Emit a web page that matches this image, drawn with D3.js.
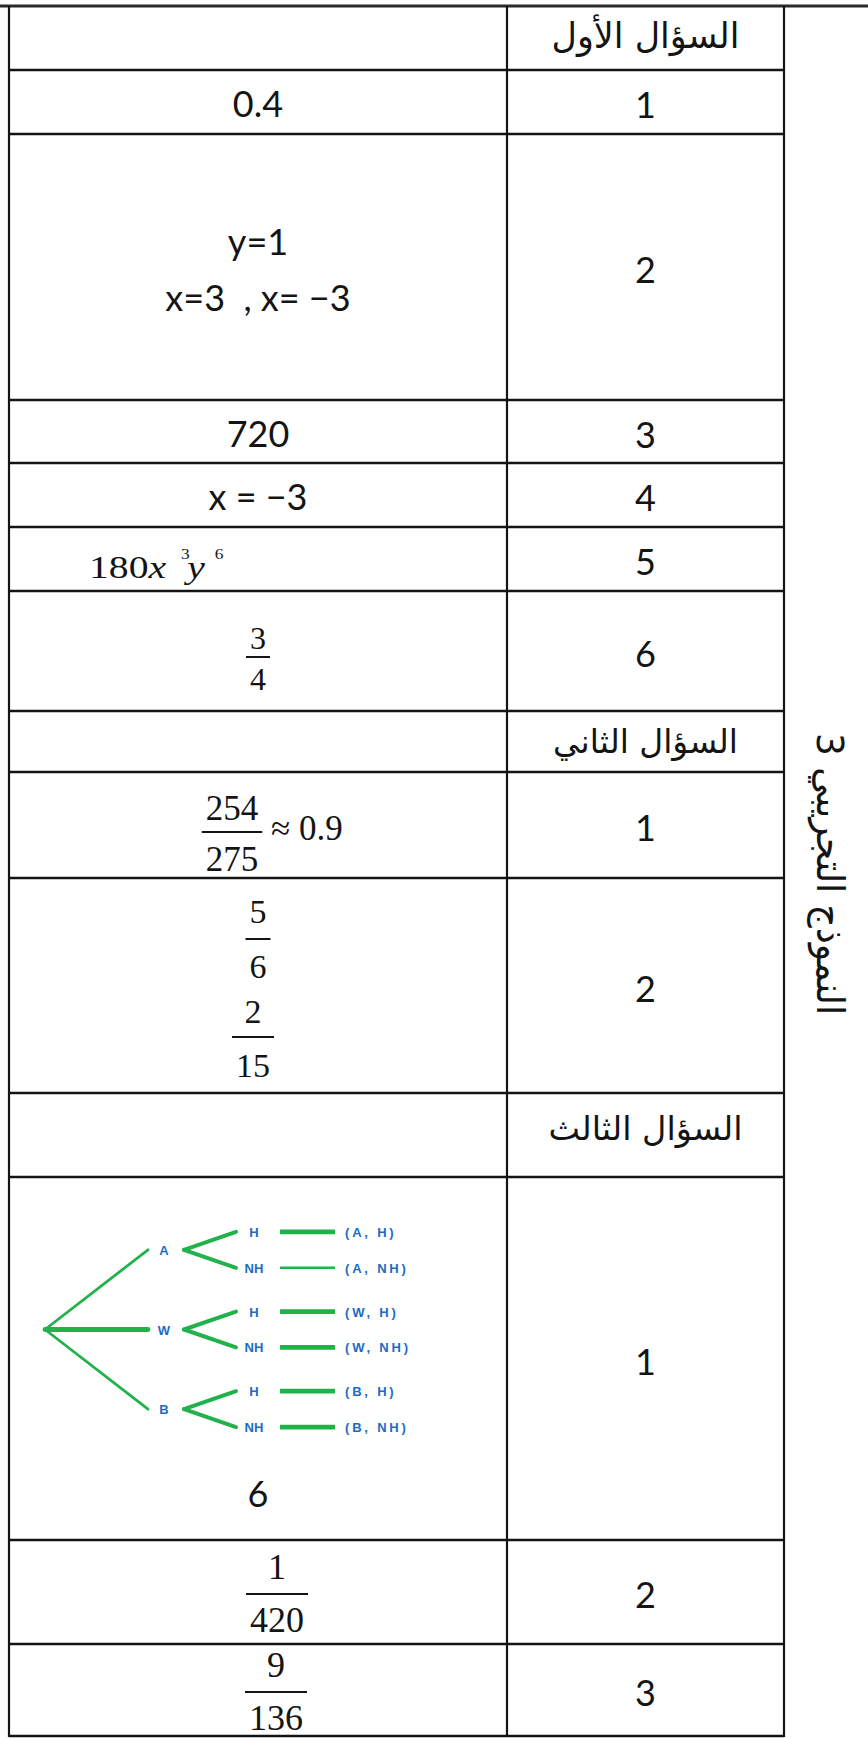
<!DOCTYPE html>
<html><head><meta charset="utf-8">
<script src="https://cdn.jsdelivr.net/npm/d3@7"></script>
<style>
html,body{margin:0;padding:0;background:#fff;}
svg{display:block;}
text{white-space:pre;}
</style></head><body>
<script>
// ---------------- data ----------------
const sectionTitles = ["السؤال الأول", "السؤال الثاني", "السؤال الثالث"];
const sideTitle = "النموذج التجريبي 3";
const q1Numbers = ["1", "2", "3", "4", "5", "6"];
const q1Answers = ["0.4", "y=1\nx=3  , x= −3", "720", "x = −3", "180x^3y^6", "3/4"];
const q2Numbers = ["1", "2"];
const q2Answers = ["254/275 ≈ 0.9", "5/6\n2/15"];
const q3Numbers = ["1", "2", "3"];
const q3Answers = ["tree\n6", "1/420", "9/136"];
const treeBranches = ["A", "W", "B"];
const treeOutcomes = ["H", "NH"];

// ---------------- layout ----------------
const W = 868, H = 1738;
const rowEdges = [6, 70, 134, 400, 463, 527, 591, 711, 772, 878, 1093, 1177, 1540, 1644, 1736];
const colEdges = [9, 507, 784, 868];
const y = d3.scaleLinear().domain(d3.range(rowEdges.length)).range(rowEdges);
const x = d3.scaleLinear().domain(d3.range(colEdges.length)).range(colEdges);

const SANS = "Lato, 'Open Sans', sans-serif";
const SERIF = "'Liberation Serif', 'DejaVu Serif', serif";
const ARABIC = "'DejaVu Sans', sans-serif";
const INK = "#141414";

// rows built from data
const rows = [];
function addSection(t, nums, answers) {
  rows.push({ type: "title", title: sectionTitles[t] });
  nums.forEach((n, i) => rows.push({ type: "answer", num: n, ans: answers[i] }));
}
addSection(0, q1Numbers, q1Answers);
addSection(1, q2Numbers, q2Answers);
addSection(2, q3Numbers, q3Answers);

// per-row placement tweaks (offsets from row centre)
const titleLayout = { 0: { dy: 10, w: 188 }, 7: { dy: 11.5, w: 185 }, 10: { dy: 5, w: 194 } };
const answerLayout = {
  1: { lines: [15] },
  2: { lines: [-12, 44] },
  3: { lines: [15.5] },
  4: { lines: [15] },
  5: { x0: 89, base: 19 },
  6: { fr: [{ cx: 258, num: -2, bar: 6, den: 39, size: 32 }] },
  8: { fr: [{ cx: 232, num: -5, bar: 7, den: 46, size: 35 }], approx: { x0: 271, base: 15 } },
  9: { fr: [{ cx: 258, num: -62.5, bar: -46.5, den: -7.5, size: 34 }, { cx: 253, num: 37.5, bar: 51.5, den: 91.5, size: 34 }] },
  11: { treeTop: 31, six: 148.5 },
  12: { fr: [{ cx: 277, num: -13, bar: 2, den: 40, size: 36 }] },
  13: { fr: [{ cx: 276, num: -13, bar: 2, den: 40, size: 36 }] }
};

const svg = d3.select("body").append("svg").attr("width", W).attr("height", H)
  .style("background", "#fff");

// ---------------- grid lines ----------------
const grid = svg.append("g").attr("stroke", INK).attr("fill", "none");
grid.append("line").attr("x1", 0).attr("x2", W).attr("y1", y(0)).attr("y2", y(0))
  .attr("stroke-width", 3).attr("stroke", "#2a2a2a");
grid.selectAll("line.h").data(d3.range(1, rowEdges.length)).join("line")
  .attr("class", "h")
  .attr("x1", x(0)).attr("x2", x(2))
  .attr("y1", d => y(d)).attr("y2", d => y(d))
  .attr("stroke-width", 2.6);
grid.selectAll("line.v").data([0, 1, 2]).join("line")
  .attr("class", "v")
  .attr("x1", d => x(d)).attr("x2", d => x(d))
  .attr("y1", y(0)).attr("y2", y(rowEdges.length - 1) + 1)
  .attr("stroke-width", 2.2);

// ---------------- helpers ----------------
const mid = i => y(i + 0.5);
function fitWidth(sel, target) {
  const w = sel.node().getComputedTextLength();
  const fs = +sel.attr("font-size");
  sel.attr("font-size", fs * target / w);
}
function fraction(g, cx, cy, f, num, den) {
  const n = g.append("text").attr("x", cx).attr("y", cy + f.num).attr("text-anchor", "middle")
    .attr("font-family", SERIF).attr("font-size", f.size).attr("fill", INK).text(num);
  const d = g.append("text").attr("x", cx).attr("y", cy + f.den).attr("text-anchor", "middle")
    .attr("font-family", SERIF).attr("font-size", f.size).attr("fill", INK).text(den);
  const bw = Math.max(n.node().getComputedTextLength(), d.node().getComputedTextLength()) + 8;
  g.append("line").attr("x1", cx - bw / 2).attr("x2", cx + bw / 2)
    .attr("y1", cy + f.bar).attr("y2", cy + f.bar).attr("stroke", INK).attr("stroke-width", 2);
}

// ---------------- cells ----------------
const cells = svg.append("g");
rows.forEach((r, i) => {
  const cy = mid(i);
  if (r.type === "title") {
    const L = titleLayout[i];
    const t = cells.append("text").attr("x", x(1.5)).attr("y", cy + L.dy)
      .attr("text-anchor", "middle").attr("direction", "rtl")
      .attr("font-family", ARABIC).attr("font-size", 26).attr("fill", INK).text(r.title);
    fitWidth(t, L.w);
    return;
  }
  // question number
  cells.append("text").attr("x", x(1.5)).attr("y", cy + 16).attr("text-anchor", "middle")
    .attr("font-family", SANS).attr("font-size", 36).attr("fill", INK).text(r.num);

  const L = answerLayout[i];
  const a = r.ans;
  if (a.startsWith("tree")) {
    drawTree(cells, y(i) + L.treeTop);
    cells.append("text").attr("x", x(0.5)).attr("y", cy + L.six).attr("text-anchor", "middle")
      .attr("font-family", SANS).attr("font-size", 36).attr("fill", INK).text(a.split("\n")[1]);
  } else if (a.includes("^")) {
    const parts = a.match(/^(\d+)(\w)\^(\d)(\w)\^(\d)$/);
    const t = cells.append("text")
      .attr("transform", `translate(${L.x0},${cy + L.base}) scale(1.24,1)`)
      .attr("font-family", SERIF).attr("font-size", 32).attr("fill", INK);
    t.append("tspan").text(parts[1]);
    t.append("tspan").attr("font-style", "italic").text(parts[2]);
    t.append("tspan").attr("font-size", 14).attr("dx", 12).attr("dy", -19).text(parts[3]);
    t.append("tspan").attr("font-style", "italic").attr("dx", -2).attr("dy", 19).text(parts[4]);
    t.append("tspan").attr("font-size", 14).attr("dx", 8).attr("dy", -19).text(parts[5]);
  } else if (L.fr) {
    const lines = a.split("\n");
    lines.forEach((ln, k) => {
      const [fracPart, rest] = ln.split(" ≈ ");
      const [num, den] = fracPart.split("/");
      fraction(cells, L.fr[k].cx, cy, L.fr[k], num, den);
      if (rest !== undefined) {
        cells.append("text").attr("x", L.approx.x0).attr("y", cy + L.approx.base)
          .attr("font-family", SERIF).attr("font-size", 35).attr("fill", INK).text("≈ " + rest);
      }
    });
  } else {
    a.split("\n").forEach((ln, k) => {
      cells.append("text").attr("x", x(0.5)).attr("y", cy + L.lines[k]).attr("text-anchor", "middle")
        .attr("font-family", SANS).attr("font-size", 36).attr("fill", INK).text(ln);
    });
  }
});

// ---------------- tree diagram ----------------
function drawTree(g, top) {
  const GREEN = "#22b24c", BLUE = "#1c6cc4";
  const data = { name: "", children: treeBranches.map(b => ({
    name: b, children: treeOutcomes.map(o => ({ name: o, pair: `(${b}, ${o})` })) })) };
  const root = d3.hierarchy(data);
  d3.tree().size([239, 1]).separation((p, q) => p.parent === q.parent ? 1 : 1.22)(root);
  const depthX = d3.scaleOrdinal().domain([0, 1, 2]).range([45, 164, 254]);
  const py = n => top + n.x + 2;
  const tg = g.append("g");
  // links
  tg.selectAll("line.l").data(root.links()).join("line")
    .attr("x1", d => d.source.depth === 0 ? depthX(0) : depthX(1) + 20)
    .attr("y1", d => py(d.source))
    .attr("x2", d => depthX(d.target.depth) - (d.target.depth === 1 ? 16 : 18))
    .attr("y2", d => py(d.target))
    .attr("stroke", GREEN).attr("stroke-linecap", "round")
    .attr("stroke-width", d => d.source.depth === 0 ? (d.target.data.name === "W" ? 4.8 : 2.8) : 4);
  // node labels
  tg.selectAll("text.n").data(root.descendants().filter(d => d.depth > 0)).join("text")
    .attr("x", d => depthX(d.depth)).attr("y", d => py(d) + 5)
    .attr("text-anchor", "middle").attr("font-family", "'Liberation Sans', Arial, sans-serif")
    .attr("font-weight", "bold").attr("font-size", 13)
    .attr("fill", BLUE).text(d => d.data.name);
  const leaves = root.leaves();
  tg.selectAll("line.b").data(leaves).join("line")
    .attr("x1", 280).attr("x2", 335).attr("y1", d => py(d)).attr("y2", d => py(d))
    .attr("stroke", GREEN).attr("stroke-width", (d, k) => k === 1 ? 2.6 : 4.8);
  tg.selectAll("text.p").data(leaves).join("text")
    .attr("x", 345).attr("y", d => py(d) + 5)
    .attr("font-family", "'Liberation Sans', Arial, sans-serif").attr("font-weight", "bold")
    .attr("font-size", 13).attr("letter-spacing", 2.8).attr("fill", BLUE)
    .text(d => d.data.pair);
}

// ---------------- vertical side title ----------------
const side = svg.append("text")
  .attr("text-anchor", "middle").attr("dominant-baseline", "central").attr("direction", "rtl")
  .attr("font-family", ARABIC).attr("font-size", 38).attr("fill", INK).text(sideTitle);
const sideW = side.node().getBBox().width;
side.attr("transform", `translate(830,874) rotate(90) scale(${282 / sideW},1)`);
</script>
</body></html>
